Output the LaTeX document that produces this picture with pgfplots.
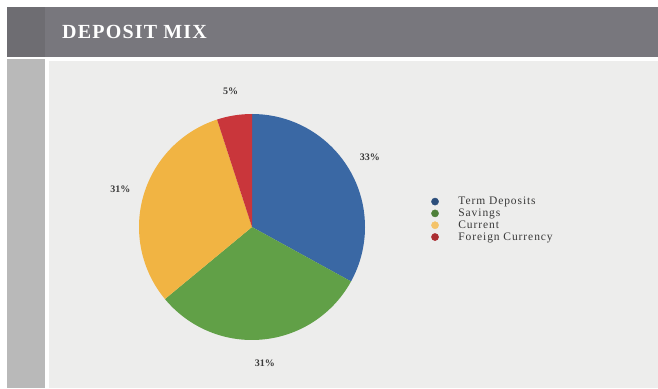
\documentclass[border=0pt]{standalone}
\usepackage{pgfplots}
\pgfplotsset{compat=1.18}
\usepackage{pgfplotstable}
\usepackage{fontspec}
\setmainfont{Liberation Serif}
\definecolor{hdr}{HTML}{78777D}
\definecolor{hdrL}{HTML}{6E6D72}
\definecolor{side}{HTML}{B9B9B9}
\definecolor{bg}{HTML}{EDEDEC}
\definecolor{sBlue}{HTML}{3A68A4}
\definecolor{sGreen}{HTML}{61A047}
\definecolor{sYellow}{HTML}{F1B443}
\definecolor{sRed}{HTML}{C9363B}
\definecolor{lblc}{HTML}{3A3A3A}

\pgfplotstableread{
name value col
TermDeposits 33 sBlue
Savings 31 sGreen
Current 31 sYellow
ForeignCurrency 5 sRed
}\piedata

\begin{document}
\begin{tikzpicture}
\begin{axis}[
  scale only axis, width=658pt, height=388pt,
  xmin=0, xmax=658, ymin=0, ymax=388,
  hide axis, clip=false,
  legend style={at={(0.6505,0.503)}, anchor=north west, draw=none, fill=none,
    font=\fontsize{11.5}{12}\selectfont\addfontfeatures{LetterSpace=8}\color{lblc}, row sep=-1.3pt,
    legend cell align=left},
  legend image code/.code={\fill[#1] (0.1cm,0cm) circle (3.6pt); \path[draw=none,fill=none] (0,0) -- (0.85cm,0);},
]
% background
\fill[white] (axis cs:0,0) rectangle (axis cs:658,388);
\fill[hdr] (axis cs:7,381) rectangle (axis cs:658,331);
\fill[hdrL] (axis cs:7,381) rectangle (axis cs:45,331);
\fill[side] (axis cs:7,329) rectangle (axis cs:45,0);
\fill[bg] (axis cs:49,327) rectangle (axis cs:658,0);
\node[anchor=base west, inner sep=0pt, text=white, font=\fontsize{20}{21}\selectfont\bfseries\addfontfeatures{LetterSpace=6}]
  at (axis cs:62,349) {DEPOSIT MIX};
% pie
\def\cum{0}
\pgfplotsforeachungrouped \i in {0,...,3}{
  \pgfplotstablegetelem{\i}{value}\of\piedata \let\v=\pgfplotsretval
  \pgfplotstablegetelem{\i}{col}\of\piedata \let\c=\pgfplotsretval
  \pgfmathsetmacro\a{90-\cum*3.6}
  \pgfmathsetmacro\b{90-(\cum+\v)*3.6}
  \pgfmathsetmacro\m{(\a+\b)/2}
  \edef\temp{\noexpand\fill[\c] (axis cs:252,161) -- ++(\a:113pt) arc[start angle=\a, end angle=\b, radius=113pt] -- cycle;
    \noexpand\path (axis cs:252,161) ++(\m:137pt) node[text=lblc, font=\noexpand\fontsize{10}{12}\noexpand\selectfont\noexpand\bfseries] {\v\noexpand\%};}
  \temp
  \pgfmathsetmacro\cum{\cum+\v}
}
\addlegendimage{sBlue!75!black}
\addlegendentry{Term Deposits}
\addlegendimage{sGreen!80!black}
\addlegendentry{Savings}
\addlegendimage{sYellow!80!white}
\addlegendentry{Current}
\addlegendimage{sRed!85!black}
\addlegendentry{Foreign Currency}
\end{axis}
\pgfresetboundingbox
\path[use as bounding box] (0,0) rectangle (658pt,388pt);
\end{tikzpicture}
\end{document}
